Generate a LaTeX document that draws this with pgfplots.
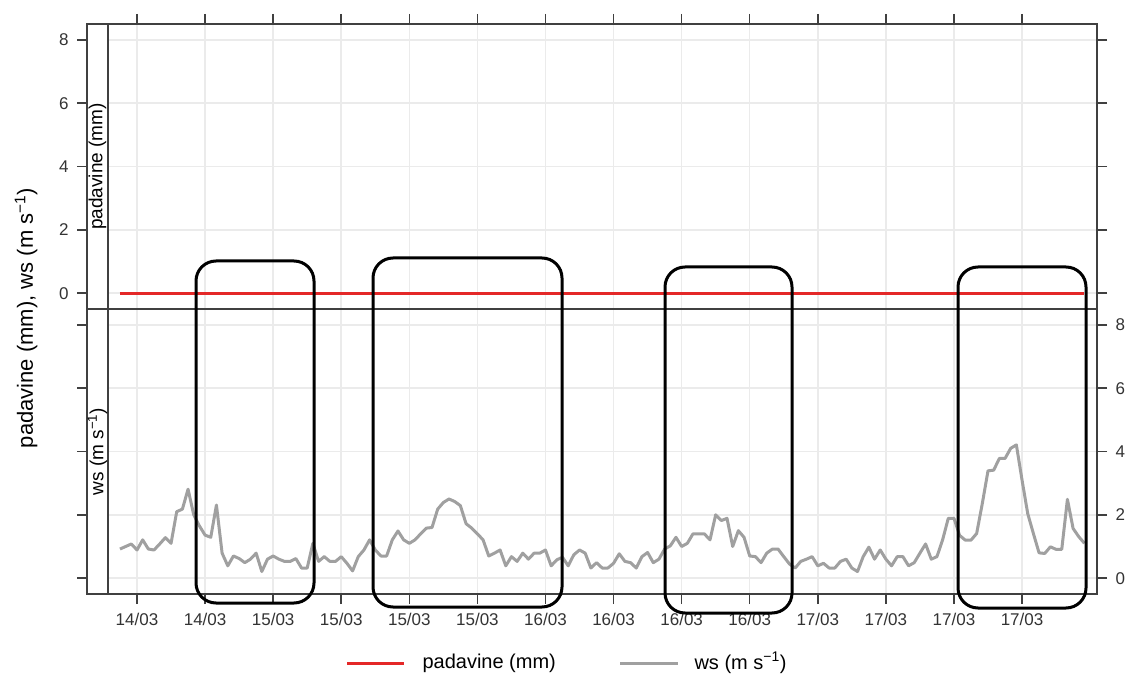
\documentclass[border=0pt]{standalone}
\usepackage{fontspec}
\setmainfont{Liberation Sans}
\usepackage{pgfplots}
\usepackage{pgfplotstable}
\pgfplotsset{compat=1.18}

\definecolor{wsgrey}{RGB}{160,160,160}
\definecolor{rainred}{RGB}{228,40,40}
\definecolor{gridgrey}{RGB}{235,235,235}
\definecolor{framegrey}{RGB}{64,64,64}

% hours since 14/03 00:00, half-hourly wind speed
\pgfplotstableread{
h ws
10.5 0.92
11.0 1.00
11.5 1.08
12.0 0.89
12.5 1.21
13.0 0.92
13.5 0.89
14.0 1.08
14.5 1.28
15.0 1.10
15.5 2.10
16.0 2.18
16.5 2.81
17.0 2.00
17.5 1.65
18.0 1.36
18.5 1.29
19.0 2.31
19.5 0.79
20.0 0.39
20.5 0.70
21.0 0.62
21.5 0.49
22.0 0.60
22.5 0.79
23.0 0.21
23.5 0.60
24.0 0.70
24.5 0.60
25.0 0.53
25.5 0.53
26.0 0.62
26.5 0.32
27.0 0.32
27.5 1.10
28.0 0.53
28.5 0.68
29.0 0.53
29.5 0.53
30.0 0.68
30.5 0.47
31.0 0.23
31.5 0.68
32.0 0.89
32.5 1.21
33.0 0.89
33.5 0.70
34.0 0.70
34.5 1.21
35.0 1.49
35.5 1.21
36.0 1.10
36.5 1.21
37.0 1.40
37.5 1.58
38.0 1.60
38.5 2.18
39.0 2.39
39.5 2.50
40.0 2.42
40.5 2.29
41.0 1.72
41.5 1.58
42.0 1.40
42.5 1.21
43.0 0.70
43.5 0.79
44.0 0.89
44.5 0.39
45.0 0.68
45.5 0.53
46.0 0.79
46.5 0.60
47.0 0.79
47.5 0.79
48.0 0.89
48.5 0.39
49.0 0.58
49.5 0.66
50.0 0.39
50.5 0.74
51.0 0.89
51.5 0.79
52.0 0.32
52.5 0.49
53.0 0.32
53.5 0.32
54.0 0.47
54.5 0.77
55.0 0.53
55.5 0.49
56.0 0.32
56.5 0.68
57.0 0.81
57.5 0.49
58.0 0.60
58.5 0.92
59.0 1.02
59.5 1.29
60.0 1.00
60.5 1.10
61.0 1.40
61.5 1.40
62.0 1.40
62.5 1.21
63.0 2.00
63.5 1.82
64.0 1.89
64.5 1.00
65.0 1.50
65.5 1.29
66.0 0.70
66.5 0.68
67.0 0.49
67.5 0.79
68.0 0.92
68.5 0.92
69.0 0.68
69.5 0.45
70.0 0.32
70.5 0.53
71.0 0.60
71.5 0.68
72.0 0.39
72.5 0.47
73.0 0.32
73.5 0.32
74.0 0.53
74.5 0.60
75.0 0.32
75.5 0.21
76.0 0.68
76.5 0.98
77.0 0.60
77.5 0.89
78.0 0.60
78.5 0.39
79.0 0.68
79.5 0.68
80.0 0.39
80.5 0.49
81.0 0.79
81.5 1.08
82.0 0.60
82.5 0.68
83.0 1.21
83.5 1.89
84.0 1.89
84.5 1.35
85.0 1.20
85.5 1.20
86.0 1.41
86.5 2.36
87.0 3.39
87.5 3.41
88.0 3.78
88.5 3.78
89.0 4.10
89.5 4.21
90.0 3.10
90.5 2.04
91.0 1.41
91.5 0.80
92.0 0.78
92.5 0.99
93.0 0.91
93.5 0.91
94.0 2.49
94.5 1.57
95.0 1.31
95.5 1.10
}\wsdata

\newcommand{\tickfont}{\fontsize{17}{20}\selectfont}
\newcommand{\labfont}{\fontsize{19}{22}\selectfont}
\newcommand{\legfont}{\fontsize{20}{24}\selectfont}
\newcommand{\ylabfont}{\fontsize{22}{26}\selectfont}

\tikzset{stripbox/.style={fill=white, draw=framegrey, line width=1.5pt}}

\pgfplotsset{
  panel/.style={
    scale only axis, width=1010pt, height=285pt,
    xmin=7.593, xmax=96.61, ymin=-0.5, ymax=8.5,
    axis line style={framegrey, line width=1.5pt},
    tick style={framegrey, line width=1.5pt},
    tick align=outside, major tick length=10pt,
    grid=major, major grid style={gridgrey, line width=1.5pt},
    xtick={12,18,...,90}, ytick={0,2,...,8},
    tick label style={font=\tickfont, text=black!80},
    xticklabel style={yshift=-6pt},
    /pgf/number format/assume math mode=true,
  },
}

\begin{document}
\begin{tikzpicture}
\useasboundingbox (0pt,0pt) rectangle (1129pt,675pt);

% upper panel: padavine
\begin{axis}[panel, at={(87pt,366pt)}, anchor=south west,
  xtick pos=upper, xticklabels={},
  ytick pos=both, yticklabel pos=left,
  yticklabel style={xshift=-5pt}]
  \addplot[rainred, line width=3pt] coordinates {(10.5,0) (95.5,0)};
  \filldraw[stripbox] (axis cs:7.593,-0.5) rectangle (axis cs:9.444,8.5);
  \node[rotate=90, font=\labfont] at (axis cs:8.52,4) {padavine (mm)};
\end{axis}

% lower panel: ws
\begin{axis}[panel, at={(87pt,81pt)}, anchor=south west,
  xtick pos=lower,
  xticklabels={14/03,14/03,15/03,15/03,15/03,15/03,16/03,16/03,16/03,16/03,17/03,17/03,17/03,17/03},
  ytick pos=both, yticklabel pos=right,
  yticklabel style={xshift=5pt}]
  \addplot[wsgrey, line width=3pt, line join=round] table[x=h, y=ws] {\wsdata};
  \filldraw[stripbox] (axis cs:7.593,-0.5) rectangle (axis cs:9.444,8.5);
  \node[rotate=90, font=\labfont] at (axis cs:8.52,4) {ws (m s\textsuperscript{−1})};
\end{axis}

% common y label
\node[rotate=90, font=\ylabfont] at (26pt,357pt) {padavine (mm), ws (m s\textsuperscript{−1})};

% highlight boxes
\begin{scope}[black, line width=3pt, rounded corners=20pt]
  \draw (196pt,414pt) rectangle (314pt,72pt);
  \draw (373pt,417pt) rectangle (562pt,68pt);
  \draw (665pt,408pt) rectangle (792pt,62pt);
  \draw (958pt,408pt) rectangle (1086pt,67pt);
\end{scope}

% legend
\draw[rainred, line width=3pt] (347pt,12pt) -- (404pt,12pt);
\node[anchor=west, font=\legfont] at (419pt,12pt) {padavine (mm)};
\draw[wsgrey, line width=3pt] (620pt,12pt) -- (678pt,12pt);
\node[anchor=west, font=\legfont] at (691pt,12pt) {ws (m s\textsuperscript{−1})};
\end{tikzpicture}
\end{document}
